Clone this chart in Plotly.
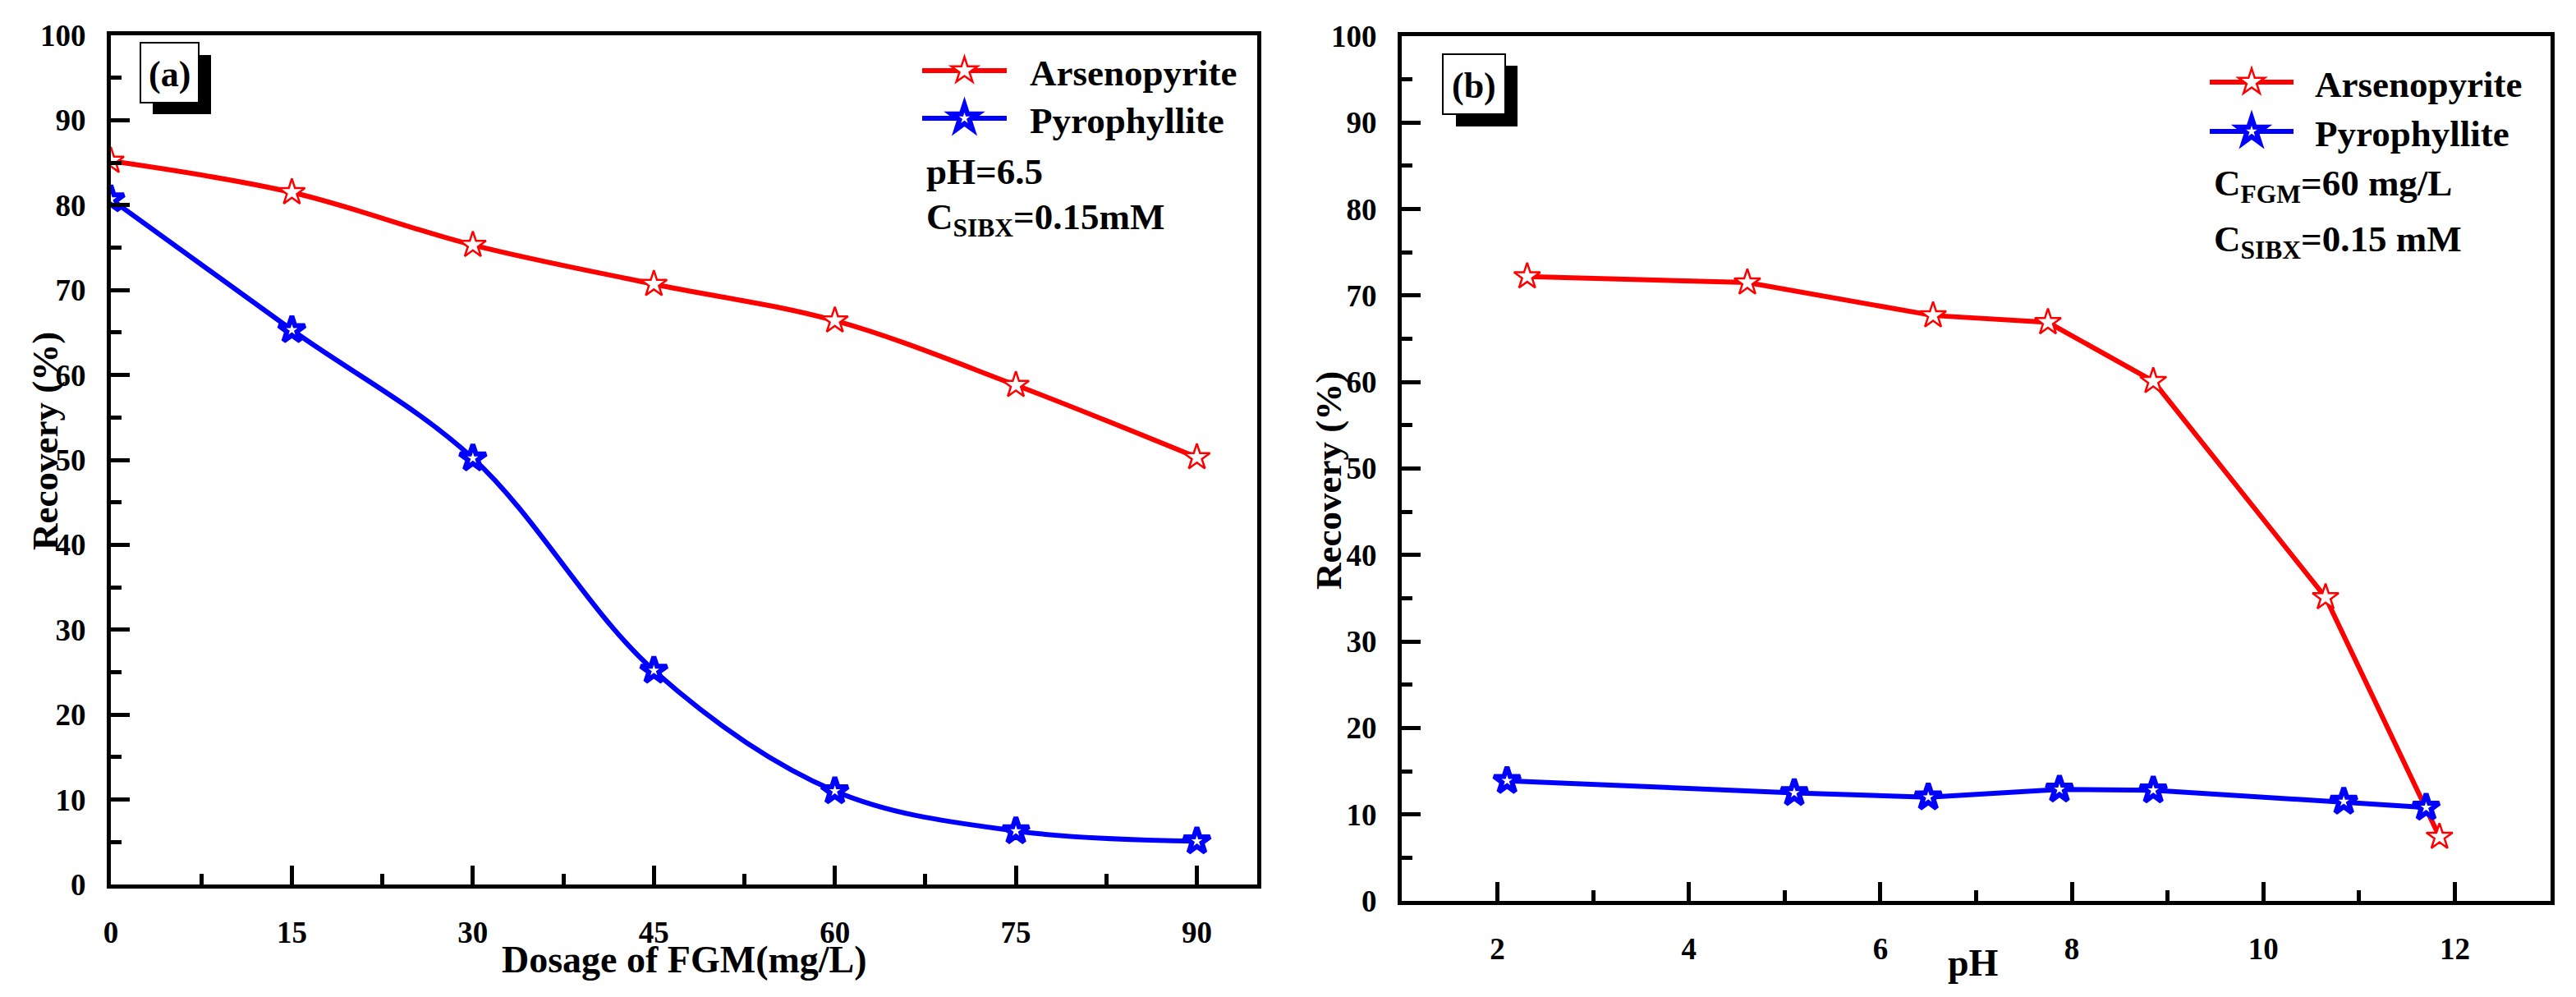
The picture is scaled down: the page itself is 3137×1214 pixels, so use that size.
import plotly.graph_objects as go

W, H = 3137, 1214
FONT = "Liberation Serif"

# (a) recovery vs FGM dosage, pH 6.5
dosage = [0, 15, 30, 45, 60, 75, 90]
arseno_a = [85.2, 81.5, 75.3, 70.7, 66.4, 58.8, 50.3]
pyro_a = [80.7, 65.3, 50.2, 25.2, 11.0, 6.3, 5.1]

# (b) recovery vs pH, FGM 60 mg/L
ph_arseno = [2.31, 4.61, 6.55, 7.75, 8.85, 10.65, 11.84]
arseno_b = [72.2, 71.5, 67.7, 66.9, 60.1, 35.1, 7.4]
ph_pyro = [2.10, 5.10, 6.50, 7.87, 8.85, 10.84, 11.70]
pyro_b = [13.9, 12.5, 12.0, 12.9, 12.8, 11.5, 10.8]

names = ["Arsenopyrite", "Pyrophyllite"]
colors = ["#ff0000", "#0000ff"]
edge = [2.5, 6]          # star outline width per mineral
notes_a = ["pH=6.5", "C<sub>SIBX</sub>=0.15mM"]
notes_b = ["C<sub>FGM</sub>=60 mg/L", "C<sub>SIBX</sub>=0.15 mM"]


def px(x):
    return x / W


def py(y):
    return 1 - y / H


def bold(size):
    return dict(family=FONT, size=size, color="black", weight="bold")


def star_path(size):
    rs = 0.7 * size
    pts = [(0.225, 0.309), (0.951, 0.309), (0.363, -0.118), (0.588, -0.809),
           (0, -0.382), (-0.588, -0.809), (-0.363, -0.118), (-0.951, 0.309),
           (-0.225, 0.309), (0, 1)]
    s = " L ".join(f"{a * rs:.2f},{b * rs:.2f}" for a, b in pts)
    return "M " + s + " Z"


fig = go.Figure()

series = [
    (dosage, arseno_a, "x", "y", "spline"),
    (dosage, pyro_a, "x", "y", "spline"),
    (ph_arseno, arseno_b, "x2", "y2", "linear"),
    (ph_pyro, pyro_b, "x2", "y2", "linear"),
]
for i, (xs, ys, xa, ya, shp) in enumerate(series):
    k = i % 2
    fig.add_trace(go.Scatter(
        x=xs, y=ys, xaxis=xa, yaxis=ya, mode="lines+markers", name=names[k],
        showlegend=False,
        line=dict(color=colors[k], width=6, shape=shp, smoothing=1.0),
        marker=dict(symbol="star", size=24, color="white",
                    line=dict(color=colors[k], width=edge[k])),
    ))


def axis(**kw):
    d = dict(showline=True, linewidth=5, linecolor="black", mirror=True,
             ticks="inside", ticklen=23, tickwidth=5, tickcolor="black",
             showgrid=False, zeroline=False, automargin=False, tickfont=bold(37),
             minor=dict(ticks="inside", ticklen=13, tickwidth=5,
                        tickcolor="black", showgrid=False))
    d.update(kw)
    return d


fig.update_layout(
    template="none",
    width=W, height=H, margin=dict(l=0, r=0, t=0, b=0, autoexpand=False),
    paper_bgcolor="white", plot_bgcolor="white", showlegend=False,
    xaxis=axis(domain=[px(135), px(1531)], range=[0, 95], tick0=0, dtick=15,
               minor_dtick=7.5, anchor="y", ticklabelstandoff=22),
    yaxis=axis(domain=[py(1077), py(43)], range=[0, 100], tick0=0, dtick=10,
               minor_dtick=5, anchor="x", ticklabelstandoff=18),
    xaxis2=axis(domain=[px(1707), px(3106)], range=[1, 13], tick0=0, dtick=2,
                minor_dtick=1, anchor="y2", ticklabelstandoff=22),
    yaxis2=axis(domain=[py(1097), py(44)], range=[0, 100], tick0=0, dtick=10,
                minor_dtick=5, anchor="x2", ticklabelstandoff=18),
)

shapes = []
ann = []

# axis titles
ann.append(dict(text="Dosage of FGM(mg/L)", x=px(833), y=py(1168), font=bold(46)))
ann.append(dict(text="pH", x=px(2403), y=py(1172), font=bold(46)))
ann.append(dict(text="Recovery (%)", x=px(55), y=py(537), textangle=-90, font=bold(45)))
ann.append(dict(text="Recovery (%)", x=px(1618), y=py(585), textangle=-90, font=bold(45)))

# panel labels with drop shadow
for lab, box, sh in [("(a)", (171, 52, 242, 125), (186, 67, 257, 139)),
                     ("(b)", (1757, 66, 1833, 139), (1773, 80, 1848, 154))]:
    shapes.append(dict(type="rect", xref="paper", yref="paper",
                       x0=px(sh[0]), x1=px(sh[2]), y0=py(sh[3]), y1=py(sh[1]),
                       fillcolor="black", line=dict(width=0), layer="above"))
    shapes.append(dict(type="rect", xref="paper", yref="paper",
                       x0=px(box[0]), x1=px(box[2]), y0=py(box[3]), y1=py(box[1]),
                       fillcolor="white", line=dict(color="black", width=2), layer="above"))
    ann.append(dict(text=lab, x=px((box[0] + box[2]) / 2), y=py((box[1] + box[3]) / 2 + 2),
                    font=bold(44)))

# hand-made legends (long line keys, big stars)
for lx0, lx1, tx, rows, notes, nrows in [
        (1123, 1226, 1252, [86, 144], notes_a, [204, 262]),
        (2691, 2793, 2817, [100, 160], notes_b, [221, 289])]:
    for k in range(2):
        yy = py(rows[k])
        shapes.append(dict(type="line", xref="paper", yref="paper",
                           x0=px(lx0), x1=px(lx1), y0=yy, y1=yy,
                           line=dict(color=colors[k], width=6), layer="above"))
        shapes.append(dict(type="path", xref="paper", yref="paper",
                           xsizemode="pixel", ysizemode="pixel",
                           xanchor=px((lx0 + lx1) / 2), yanchor=yy,
                           path=star_path(24), fillcolor="white",
                           line=dict(color=colors[k], width=edge[k]), layer="above"))
        ann.append(dict(text=names[k], x=px(tx), y=py(rows[k] + 3), xanchor="left",
                        font=bold(45)))
    for t, r in zip(notes, nrows):
        ann.append(dict(text=t, x=px(lx0 + 3), y=py(r + 5), xanchor="left", font=bold(45)))

for a in ann:
    a.setdefault("xref", "paper")
    a.setdefault("yref", "paper")
    a.setdefault("showarrow", False)
    a.setdefault("xanchor", "center")
    a.setdefault("yanchor", "middle")

fig.update_layout(shapes=shapes, annotations=ann)

fig.write_html("out.html", config={"displayModeBar": False},
               post_script="document.body.style.margin='0';")
